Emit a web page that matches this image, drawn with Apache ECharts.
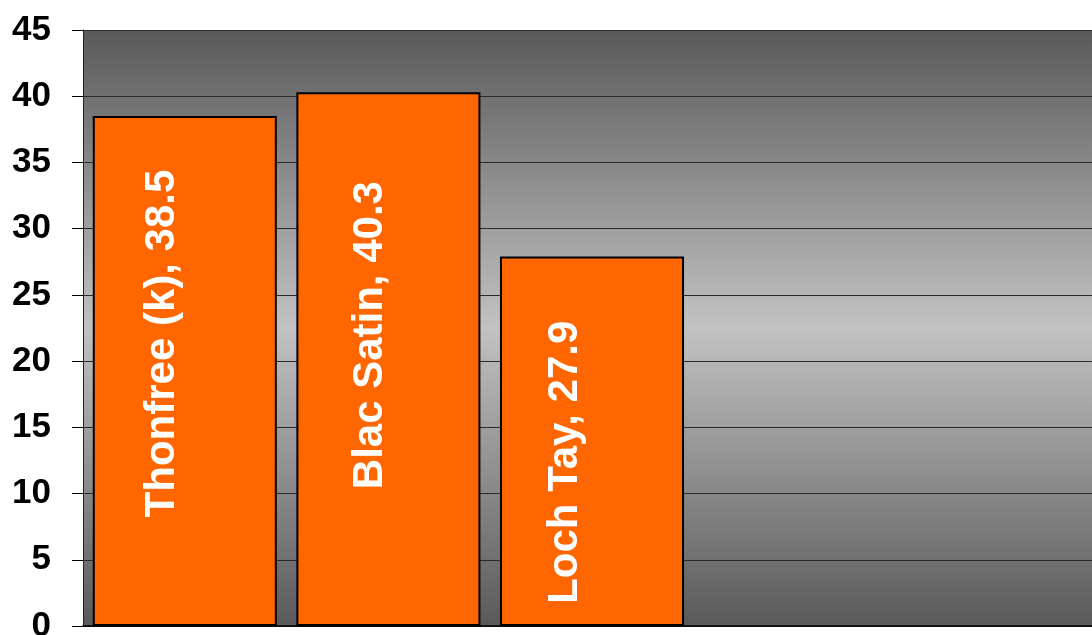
<!DOCTYPE html>
<html>
<head>
<meta charset="utf-8">
<script src="https://cdn.jsdelivr.net/npm/echarts@6/dist/echarts.min.js"></script>
<style>
html,body{margin:0;padding:0;background:#fff;}
#chart{width:1092px;height:635px;}
</style>
</head>
<body>
<div id="chart"></div>
<script>
const categories = ['Thonfree (k)', 'Blac Satin', 'Loch Tay', '', ''];
const values = [38.5, 40.3, 27.9, null, null];
const yTicks = [0, 5, 10, 15, 20, 25, 30, 35, 40, 45];

const chart = echarts.init(document.getElementById('chart'), null, {renderer: 'canvas'});
// label offsets are in the rotated label frame
const labelOffsets = [[27.5, -22.5], [24, -18], [-21, -27]];
const option = {
  animation: false,
  grid: {
    left: 83, top: 30, right: -9, bottom: 9,
    outerBoundsMode: 'none',
    containLabel: false,
    show: true,
    borderWidth: 0,
    backgroundColor: new echarts.graphic.LinearGradient(0, 0, 0, 1, [
      {offset: 0, color: '#595959'},
      {offset: 0.5, color: '#c2c2c2'},
      {offset: 1, color: '#595959'}
    ])
  },
  xAxis: {
    type: 'category',
    data: categories,
    axisLine: {show: true, lineStyle: {color: '#000', width: 1.5}},
    axisTick: {show: false},
    axisLabel: {show: false},
    splitLine: {show: false}
  },
  yAxis: {
    type: 'value',
    min: yTicks[0],
    max: yTicks[yTicks.length - 1],
    interval: 5,
    axisLine: {show: true, lineStyle: {color: '#222', width: 1}},
    axisTick: {show: true, length: 11, lineStyle: {color: '#000', width: 1}},
    axisLabel: {
      margin: 32,
      color: '#000',
      fontFamily: 'Liberation Sans, Arial, sans-serif',
      fontWeight: 'bold',
      fontSize: 35
    },
    splitLine: {show: true, lineStyle: {color: '#2a2a2a', width: 1}}
  },
  series: [{
    type: 'bar',
    barCategoryGap: '9.6%',
    data: values.map((v, i) => ({
      value: v,
      label: labelOffsets[i] ? {offset: labelOffsets[i]} : undefined
    })),
    itemStyle: {color: '#ff6600', borderColor: '#000', borderWidth: 2},
    label: {
      show: true,
      position: 'inside',
      rotate: 90,
      color: '#fff',
      fontFamily: 'Liberation Sans, Arial, sans-serif',
      fontWeight: 'bold',
      fontSize: 42,
      formatter: p => p.name + ', ' + p.value
    }
  }]
};
chart.setOption(option);
</script>
</body>
</html>
